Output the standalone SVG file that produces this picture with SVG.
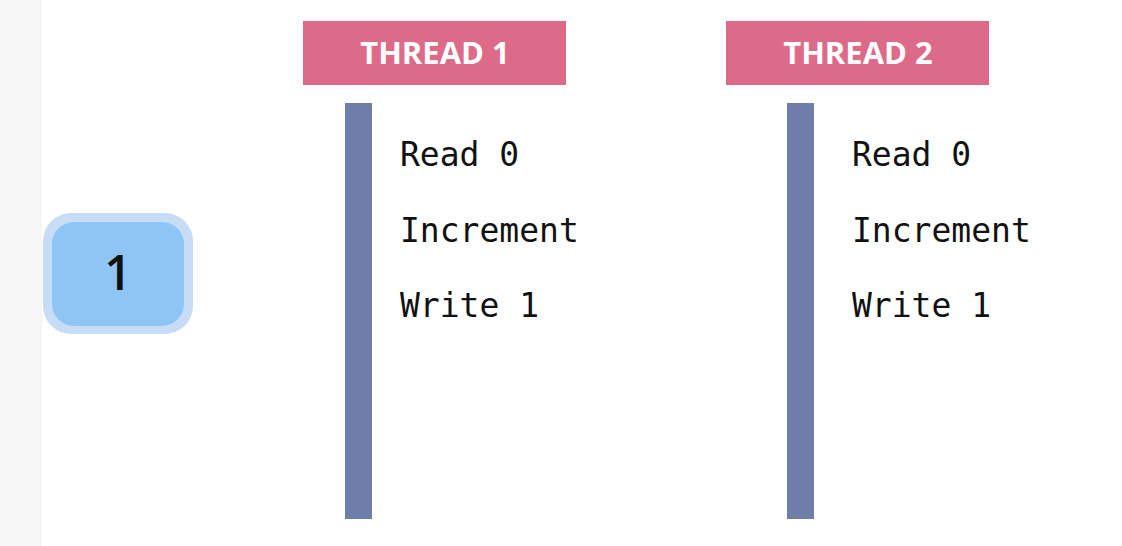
<svg xmlns="http://www.w3.org/2000/svg" width="1122" height="546" viewBox="0 0 1122 546">
  <style>
    .hdr { fill: #dc6a88; }
    .hdrtxt { font-family: "Open Sans", "Liberation Sans", sans-serif; font-weight: 700; font-size: 31px; fill: #ffffff; text-anchor: middle; }
    .bar { fill: #6e7ea8; }
    .code { font-family: "DejaVu Sans Mono", "Liberation Mono", monospace; font-size: 33px; fill: #111111; }
  </style>
  <rect x="0" y="0" width="1122" height="546" fill="#ffffff"/>
  <rect x="0" y="0" width="42" height="546" fill="#f6f6f6"/>

  <g id="value">
    <rect x="43" y="213" width="150" height="121" rx="28" fill="#c7ddf5"/>
    <rect x="52" y="222" width="132" height="104" rx="22" fill="#8ec5f5"/>
    <text x="118" y="290" text-anchor="middle" font-family="Open Sans, Liberation Sans, sans-serif" font-weight="600" font-size="48" fill="#111111">1</text>
  </g>

  <g id="thread1">
    <rect class="hdr" x="303" y="21" width="263" height="64"/>
    <text class="hdrtxt" x="435" y="64">THREAD 1</text>
    <rect class="bar" x="345" y="103" width="27" height="416"/>
    <text class="code" x="400" y="166">Read 0</text>
    <text class="code" x="400" y="242">Increment</text>
    <text class="code" x="400" y="317">Write 1</text>
  </g>

  <g id="thread2">
    <rect class="hdr" x="726" y="21" width="263" height="64"/>
    <text class="hdrtxt" x="858" y="64">THREAD 2</text>
    <rect class="bar" x="787" y="103" width="27" height="416"/>
    <text class="code" x="852" y="166">Read 0</text>
    <text class="code" x="852" y="242">Increment</text>
    <text class="code" x="852" y="317">Write 1</text>
  </g>

  <g id="connectors"></g>
</svg>
